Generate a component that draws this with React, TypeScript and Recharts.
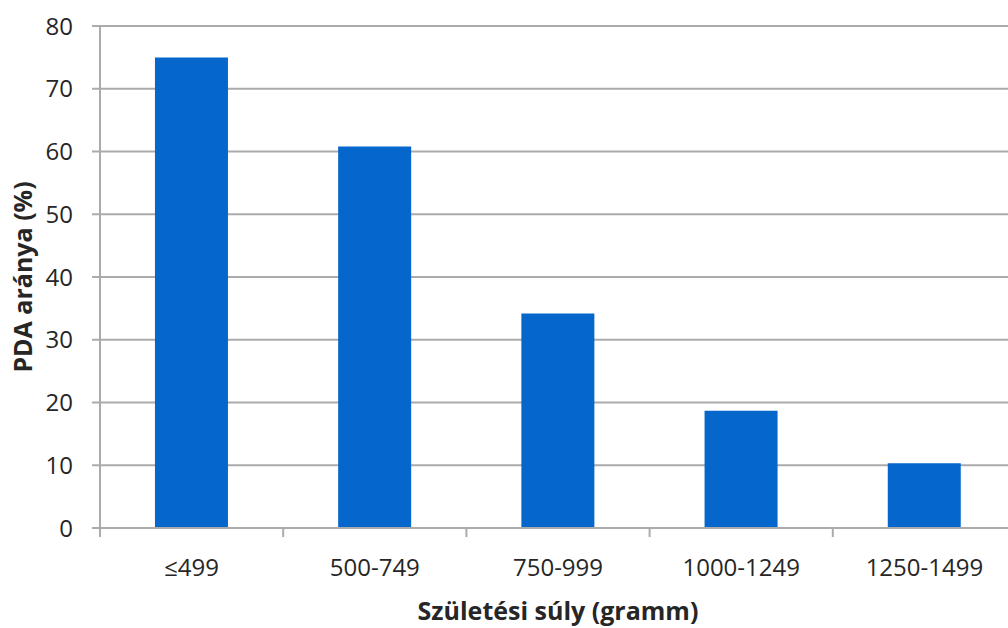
import { BarChart, Bar, XAxis, YAxis, CartesianGrid, Label } from "recharts"

const categories = ["≤499", "500-749", "750-999", "1000-1249", "1250-1499"]
const pdaRates = [75, 60.8, 34.2, 18.7, 10.3]
const yTicks = [0, 10, 20, 30, 40, 50, 60, 70, 80]

const data = categories.map((name, i) => ({ name, value: pdaRates[i] }))

const W = 1024
const H = 628
const Y_W = 100
const X_H = 100
const RIGHT = 8
const TOP = 26
const BAND = (W - RIGHT - Y_W) / categories.length
const AXIS_Y = H - X_H

const GRID = "#ababab"
const TEXT = "#262626"
const FONT = "'Open Sans', sans-serif"

function CategoryTick(props: any) {
  const { x, payload, index } = props
  return (
    <g>
      {index === 0 && (
        <line x1={x - BAND / 2} x2={x - BAND / 2} y1={AXIS_Y} y2={AXIS_Y + 9} stroke={GRID} strokeWidth={2} />
      )}
      <line x1={x + BAND / 2} x2={x + BAND / 2} y1={AXIS_Y} y2={AXIS_Y + 9} stroke={GRID} strokeWidth={2} />
      <text x={x} y={AXIS_Y + 38} textAnchor="middle" dominantBaseline="central" fontSize={24} fill={TEXT} fontFamily={FONT}>
        {payload.value}
      </text>
    </g>
  )
}

export default function App() {
  return (
    <div style={{ position: "absolute", left: 0, top: 0, width: 1008, height: 628, overflow: "hidden", background: "#fff" }}>
      <BarChart width={W} height={H} data={data} margin={{ top: TOP, right: RIGHT, bottom: 0, left: 0 }} barCategoryGap="30%">
        <CartesianGrid vertical={false} stroke={GRID} strokeWidth={2} />
        <XAxis
          dataKey="name"
          height={X_H}
          interval={0}
          axisLine={{ stroke: GRID, strokeWidth: 2 }}
          tickLine={false}
          tick={<CategoryTick />}
        >
          <Label
            content={(p: any) => {
              const vb = p.viewBox
              return (
                <text x={vb.x + vb.width / 2} y={vb.y + 82} textAnchor="middle" dominantBaseline="central" fontSize={25} fontWeight="bold" fill={TEXT} fontFamily={FONT}>
                  Születési súly (gramm)
                </text>
              )
            }}
          />
        </XAxis>
        <YAxis
          width={Y_W}
          domain={[0, 80]}
          ticks={yTicks}
          interval={0}
          axisLine={{ stroke: GRID, strokeWidth: 2 }}
          tickLine={{ stroke: GRID, strokeWidth: 2 }}
          tickSize={8}
          tickMargin={19}
          tick={{ fontSize: 24, fill: TEXT, fontFamily: FONT }}
        >
          <Label
            content={(p: any) => {
              const vb = p.viewBox
              const cx = vb.x + 22
              const cy = vb.y + vb.height / 2
              return (
                <text x={cx} y={cy} transform={`rotate(-90 ${cx} ${cy})`} textAnchor="middle" dominantBaseline="central" fontSize={25} fontWeight="bold" fill={TEXT} fontFamily={FONT}>
                  PDA aránya (%)
                </text>
              )
            }}
          />
        </YAxis>
        <Bar dataKey="value" fill="#0566cb" isAnimationActive={false} />
      </BarChart>
    </div>
  )
}
